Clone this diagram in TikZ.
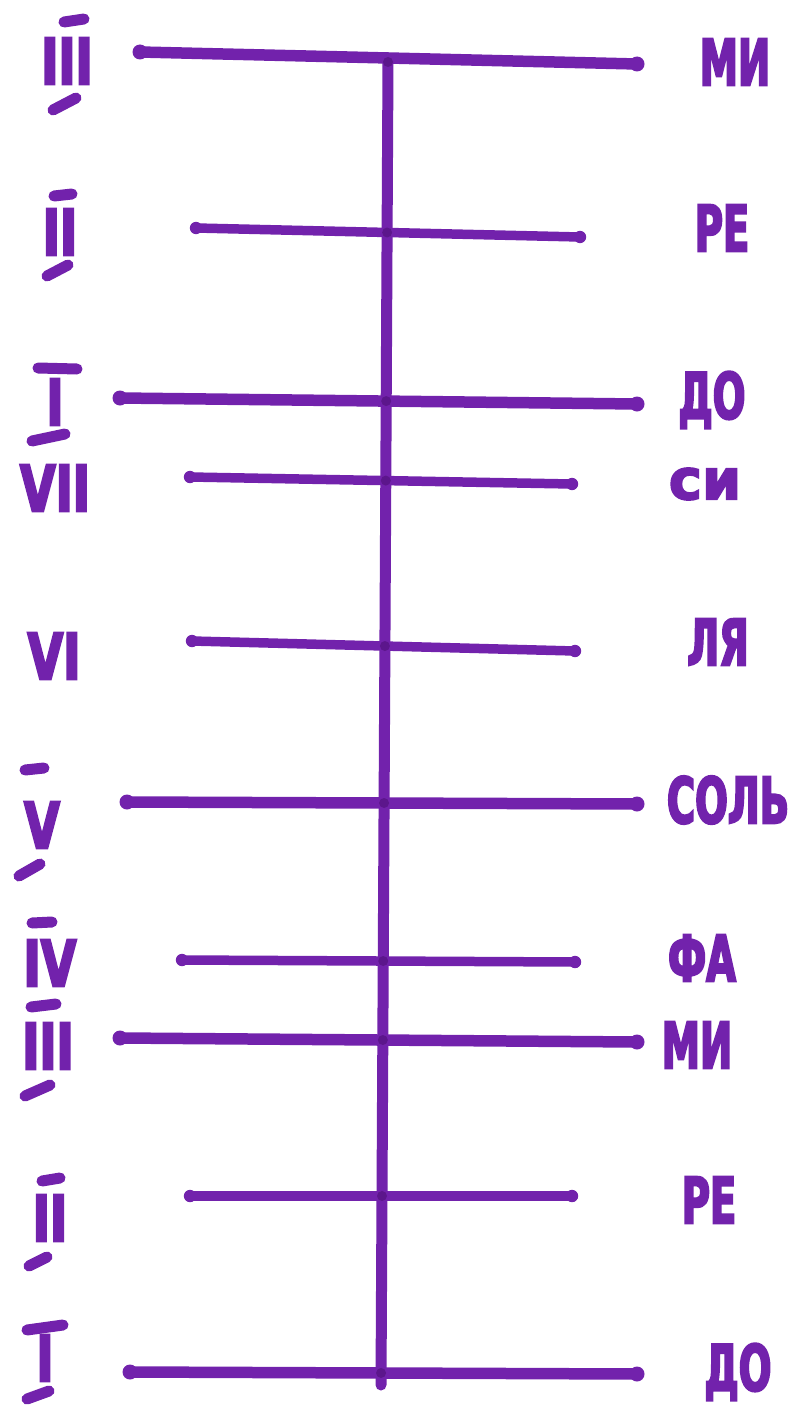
\documentclass[tikz,border=0pt]{standalone}
\usepackage{fontspec}
\usetikzlibrary{intersections}
\newfontfamily\hand[FakeStretch=0.6,FakeBold=3]{DejaVu Sans}
\newfontfamily\handdeg[FakeStretch=0.72,FakeBold=3.5]{DejaVu Sans}
\newfontfamily\handwide[FakeBold=3]{DejaVu Sans}
\definecolor{ink}{RGB}{114,34,172}
\definecolor{inkdark}{RGB}{92,22,140}
\tikzset{
  rung/.style={draw=ink, line width=9.5pt, line cap=round},
  longrung/.style={draw=ink, line width=11.5pt, line cap=round},
  stem/.style={draw=ink, line width=11pt, line cap=round},
  bar/.style={draw=ink, line width=11pt, line cap=round},
  note/.style={text=ink, inner sep=0pt, font=\hand\bfseries\fontsize{64}{64}\selectfont},
  smallnote/.style={note, font=\handwide\bfseries\fontsize{56}{56}\selectfont},
  deg/.style={text=ink, inner sep=0pt, font=\handdeg\bfseries\fontsize{64}{64}\selectfont},
}
\begin{document}
\begin{tikzpicture}[x=1pt,y=-1pt]
\useasboundingbox (0,0) rectangle (791,1405);
% vertical stem
\coordinate (top) at (388,62);
\coordinate (bot) at (381,1385);
\draw[stem, name path=stem] (top) -- (bot);
% rungs
\coordinate (L1) at (140,52);   \coordinate (R1) at (637,64);
\coordinate (L2) at (196,228);  \coordinate (R2) at (580,237);
\coordinate (L3) at (120,398);  \coordinate (R3) at (637,404);
\coordinate (L4) at (190,477);  \coordinate (R4) at (572,484);
\coordinate (L5) at (192,641);  \coordinate (R5) at (575,651);
\coordinate (L6) at (127,802);  \coordinate (R6) at (637,804);
\coordinate (L7) at (182,960);  \coordinate (R7) at (575,962);
\coordinate (L8) at (120,1038); \coordinate (R8) at (637,1042);
\coordinate (L9) at (190,1196); \coordinate (R9) at (572,1196);
\coordinate (L10) at (130,1372);\coordinate (R10) at (637,1374);
\draw[longrung, name path=r1] (L1) -- (R1);
\draw[rung, name path=r2] (L2) -- (R2);
\draw[longrung, name path=r3] (L3) -- (R3);
\draw[rung, name path=r4] (L4) -- (R4);
\draw[rung, name path=r5] (L5) -- (R5);
\draw[longrung, name path=r6] (L6) -- (R6);
\draw[rung, name path=r7] (L7) -- (R7);
\draw[longrung, name path=r8] (L8) -- (R8);
\draw[rung, name path=r9] (L9) -- (R9);
\draw[longrung, name path=r10] (L10) -- (R10);
% end dots
\foreach \p in {L1,R1,L3,R3,L6,R6,L8,R8,L10,R10}{\fill[ink] (\p) circle (7.5pt);}
\foreach \p in {L2,R2,L4,R4,L5,R5,L7,R7,L9,R9}{\fill[ink] (\p) circle (6.2pt);}
% darker junctions
\fill[inkdark] (top) circle (5pt);
\foreach \k in {2,...,10}{
  \fill[inkdark, name intersections={of=stem and r\k}] (intersection-1) circle (5pt);
}
% note names (right)
\node[note] (n1) at (735,62) {МИ};
\node[note] (n2) at (722,228) {РЕ};
\node[note] (n3) at (712,400) {ДО};
\node[smallnote] (n4) at (705,484) {си};
\node[note] (n5) at (718,642) {ЛЯ};
\node[note] (n6) at (728,800) {СОЛЬ};
\node[note] (n7) at (702,958) {ФА};
\node[note] (n8) at (697,1045) {МИ};
\node[note] (n9) at (709,1200) {РЕ};
\node[note] (n10) at (738,1372) {ДО};
% degrees (left)
\node[deg] (d1) at (67,61) {III};
\node[deg] (d2) at (60,232) {II};
\node[deg] (d3) at (55,402) {I};
\node[deg] (d4) at (55,488) {VII};
\node[deg] (d5) at (54,656) {VI};
\node[deg] (d6) at (42,825) {V};
\node[deg] (d7) at (50,963) {IV};
\node[deg] (d8) at (48,1046) {III};
\node[deg] (d9) at (50,1218) {II};
\node[deg] (d10) at (45,1358) {I};
% bars above / below degrees
\draw[bar] (64,22) -- (84,19);
\draw[bar] (53,110) -- (76,98);
\draw[bar] (54,196) -- (72,194);
\draw[bar] (47,276) -- (68,265);
\draw[bar] (38,368) -- (77,369);
\draw[bar] (32,441) -- (65,434);
\draw[bar] (25,770) -- (44,768);
\draw[bar] (19,876) -- (40,864);
\draw[bar] (32,923) -- (52,922);
\draw[bar] (31,1007) -- (56,1004);
\draw[bar] (25,1096) -- (50,1085);
\draw[bar] (42,1181) -- (60,1178);
\draw[bar] (29,1266) -- (47,1257);
\draw[bar] (27,1330) -- (63,1325);
\draw[bar] (27,1399) -- (49,1391);
\end{tikzpicture}
\end{document}
